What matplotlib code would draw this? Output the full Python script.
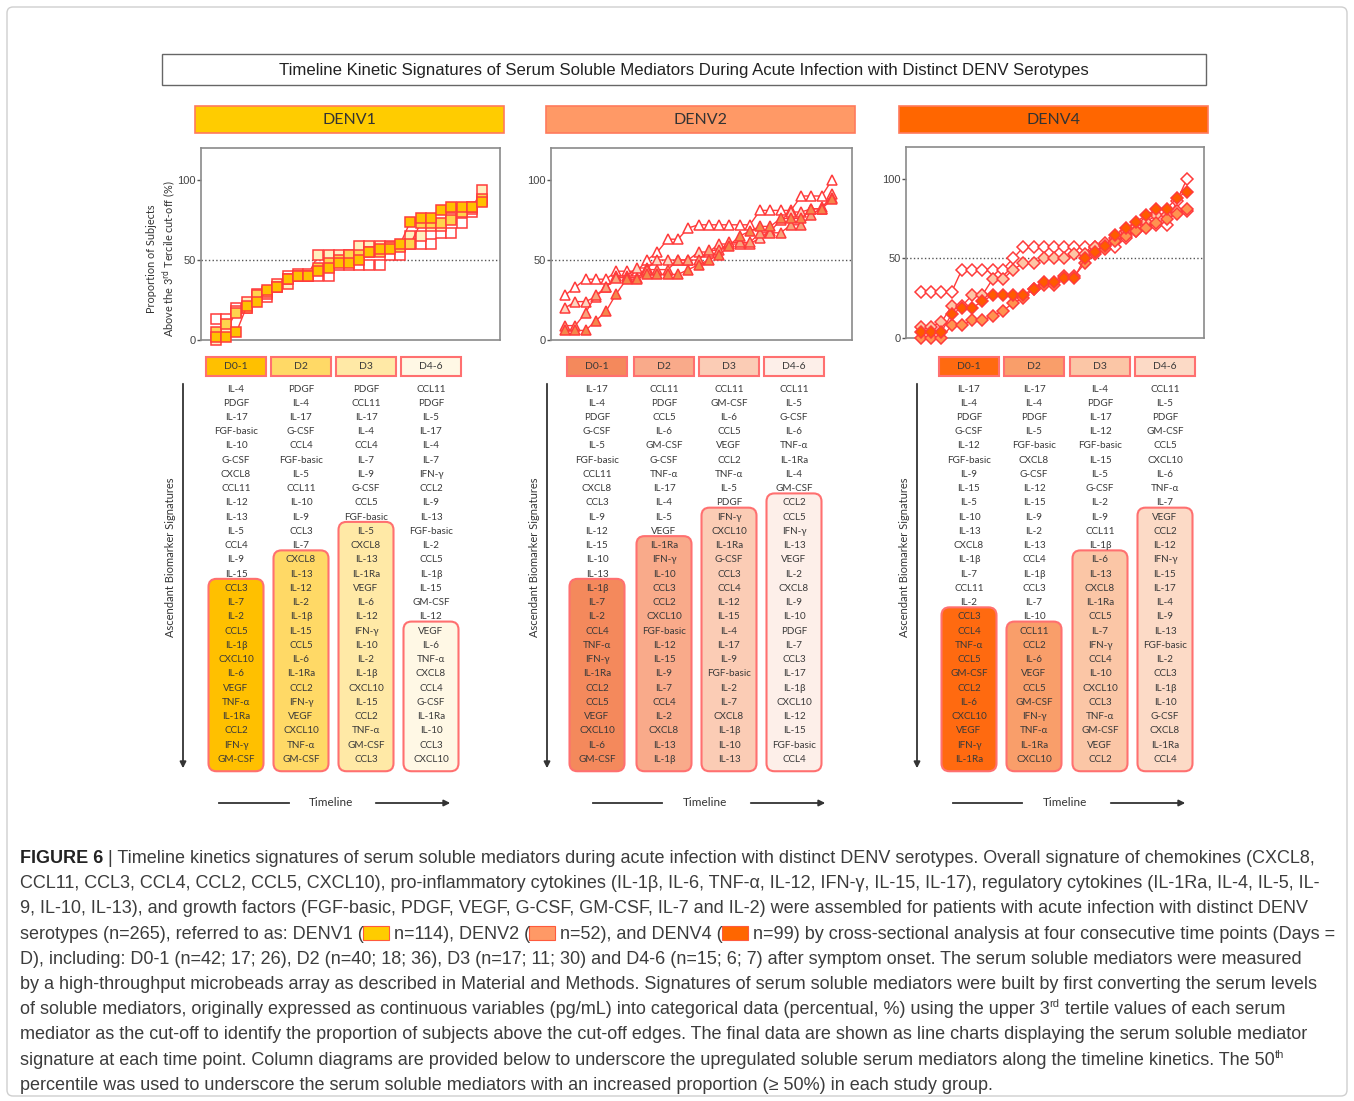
import matplotlib
matplotlib.use('Agg')
import matplotlib.pyplot as plt
from matplotlib.patches import FancyBboxPatch, Rectangle

W, H = 1354, 1101

# ---- data ----
days = ['D0-1', 'D2', 'D3', 'D4-6']
serotypes = ['DENV1', 'DENV2', 'DENV4']

# proportion of subjects above the 3rd tercile (%), ascending, 27 mediators
denv1_d01_pct = [2, 2, 5, 21, 24, 31, 33, 38, 40, 40, 43, 45, 48, 48, 50, 55, 57, 57, 60, 74, 76, 76, 81, 83, 83, 83, 86]
denv1_d2_pct = [5, 10, 17, 20, 28, 30, 33, 38, 40, 40, 45, 48, 50, 53, 53, 55, 55, 58, 58, 60, 73, 73, 73, 75, 80, 83, 88]
denv1_d3_pct = [0, 6, 18, 24, 29, 29, 35, 35, 41, 41, 53, 53, 53, 53, 59, 59, 59, 59, 59, 65, 65, 71, 71, 76, 82, 82, 94]
denv1_d46_pct = [13, 13, 20, 20, 27, 27, 33, 40, 40, 40, 40, 40, 47, 47, 47, 47, 47, 53, 53, 60, 60, 60, 67, 67, 73, 80, 87]

denv2_d01_pct = [6, 6, 6, 12, 18, 29, 38, 38, 41, 41, 41, 41, 44, 47, 50, 53, 59, 65, 68, 71, 71, 76, 76, 76, 82, 82, 88]
denv2_d2_pct = [9, 9, 17, 28, 33, 39, 39, 39, 44, 44, 44, 50, 50, 50, 56, 56, 61, 61, 61, 67, 67, 67, 72, 72, 78, 83, 89]
denv2_d3_pct = [20, 24, 24, 27, 33, 40, 40, 45, 45, 50, 50, 50, 50, 55, 55, 60, 60, 60, 60, 64, 68, 75, 80, 80, 82, 82, 91]
denv2_d46_pct = [28, 33, 38, 38, 38, 43, 43, 43, 50, 55, 63, 63, 70, 72, 72, 72, 72, 72, 72, 81, 81, 81, 81, 90, 90, 90, 100]

denv4_d01_pct = [4, 4, 4, 15, 19, 19, 23, 27, 27, 27, 27, 31, 35, 35, 38, 38, 50, 54, 58, 65, 69, 73, 77, 81, 81, 88, 92]
denv4_d2_pct = [0, 0, 0, 8, 8, 11, 11, 14, 17, 22, 25, 31, 33, 33, 39, 39, 47, 53, 56, 61, 64, 67, 69, 72, 75, 78, 81]
denv4_d3_pct = [7, 7, 10, 20, 20, 27, 27, 37, 37, 43, 47, 47, 50, 50, 50, 53, 53, 57, 60, 63, 67, 70, 73, 77, 77, 80, 80]
denv4_d46_pct = [29, 29, 29, 29, 43, 43, 43, 43, 43, 50, 57, 57, 57, 57, 57, 57, 57, 57, 57, 57, 63, 67, 71, 71, 71, 86, 100]

# ascending biomarker order per time point
denv1_d01_order = ['IL-4', 'PDGF', 'IL-17', 'FGF-basic', 'IL-10', 'G-CSF', 'CXCL8', 'CCL11', 'IL-12', 'IL-13', 'IL-5', 'CCL4', 'IL-9', 'IL-15',
                   'CCL3', 'IL-7', 'IL-2', 'CCL5', 'IL-1β', 'CXCL10', 'IL-6', 'VEGF', 'TNF-α', 'IL-1Ra', 'CCL2', 'IFN-γ', 'GM-CSF']
denv1_d2_order = ['PDGF', 'IL-4', 'IL-17', 'G-CSF', 'CCL4', 'FGF-basic', 'IL-5', 'CCL11', 'IL-10', 'IL-9', 'CCL3', 'IL-7',
                  'CXCL8', 'IL-13', 'IL-12', 'IL-2', 'IL-1β', 'IL-15', 'CCL5', 'IL-6', 'IL-1Ra', 'CCL2', 'IFN-γ', 'VEGF', 'CXCL10', 'TNF-α', 'GM-CSF']
denv1_d3_order = ['PDGF', 'CCL11', 'IL-17', 'IL-4', 'CCL4', 'IL-7', 'IL-9', 'G-CSF', 'CCL5', 'FGF-basic',
                  'IL-5', 'CXCL8', 'IL-13', 'IL-1Ra', 'VEGF', 'IL-6', 'IL-12', 'IFN-γ', 'IL-10', 'IL-2', 'IL-1β', 'CXCL10', 'IL-15', 'CCL2', 'TNF-α', 'GM-CSF', 'CCL3']
denv1_d46_order = ['CCL11', 'PDGF', 'IL-5', 'IL-17', 'IL-4', 'IL-7', 'IFN-γ', 'CCL2', 'IL-9', 'IL-13', 'FGF-basic', 'IL-2', 'CCL5', 'IL-1β', 'IL-15', 'GM-CSF', 'IL-12',
                   'VEGF', 'IL-6', 'TNF-α', 'CXCL8', 'CCL4', 'G-CSF', 'IL-1Ra', 'IL-10', 'CCL3', 'CXCL10']

denv2_d01_order = ['IL-17', 'IL-4', 'PDGF', 'G-CSF', 'IL-5', 'FGF-basic', 'CCL11', 'CXCL8', 'CCL3', 'IL-9', 'IL-12', 'IL-15', 'IL-10', 'IL-13',
                   'IL-1β', 'IL-7', 'IL-2', 'CCL4', 'TNF-α', 'IFN-γ', 'IL-1Ra', 'CCL2', 'CCL5', 'VEGF', 'CXCL10', 'IL-6', 'GM-CSF']
denv2_d2_order = ['CCL11', 'PDGF', 'CCL5', 'IL-6', 'GM-CSF', 'G-CSF', 'TNF-α', 'IL-17', 'IL-4', 'IL-5', 'VEGF',
                  'IL-1Ra', 'IFN-γ', 'IL-10', 'CCL3', 'CCL2', 'CXCL10', 'FGF-basic', 'IL-12', 'IL-15', 'IL-9', 'IL-7', 'CCL4', 'IL-2', 'CXCL8', 'IL-13', 'IL-1β']
denv2_d3_order = ['CCL11', 'GM-CSF', 'IL-6', 'CCL5', 'VEGF', 'CCL2', 'TNF-α', 'IL-5', 'PDGF',
                  'IFN-γ', 'CXCL10', 'IL-1Ra', 'G-CSF', 'CCL3', 'CCL4', 'IL-12', 'IL-15', 'IL-4', 'IL-17', 'IL-9', 'FGF-basic', 'IL-2', 'IL-7', 'CXCL8', 'IL-1β', 'IL-10', 'IL-13']
denv2_d46_order = ['CCL11', 'IL-5', 'G-CSF', 'IL-6', 'TNF-α', 'IL-1Ra', 'IL-4', 'GM-CSF',
                   'CCL2', 'CCL5', 'IFN-γ', 'IL-13', 'VEGF', 'IL-2', 'CXCL8', 'IL-9', 'IL-10', 'PDGF', 'IL-7', 'CCL3', 'IL-17', 'IL-1β', 'CXCL10', 'IL-12', 'IL-15', 'FGF-basic', 'CCL4']

denv4_d01_order = ['IL-17', 'IL-4', 'PDGF', 'G-CSF', 'IL-12', 'FGF-basic', 'IL-9', 'IL-15', 'IL-5', 'IL-10', 'IL-13', 'CXCL8', 'IL-1β', 'IL-7', 'CCL11', 'IL-2',
                   'CCL3', 'CCL4', 'TNF-α', 'CCL5', 'GM-CSF', 'CCL2', 'IL-6', 'CXCL10', 'VEGF', 'IFN-γ', 'IL-1Ra']
denv4_d2_order = ['IL-17', 'IL-4', 'PDGF', 'IL-5', 'FGF-basic', 'CXCL8', 'G-CSF', 'IL-12', 'IL-15', 'IL-9', 'IL-2', 'IL-13', 'CCL4', 'IL-1β', 'CCL3', 'IL-7', 'IL-10',
                  'CCL11', 'CCL2', 'IL-6', 'VEGF', 'CCL5', 'GM-CSF', 'IFN-γ', 'TNF-α', 'IL-1Ra', 'CXCL10']
denv4_d3_order = ['IL-4', 'PDGF', 'IL-17', 'IL-12', 'FGF-basic', 'IL-15', 'IL-5', 'G-CSF', 'IL-2', 'IL-9', 'CCL11', 'IL-1β',
                  'IL-6', 'IL-13', 'CXCL8', 'IL-1Ra', 'CCL5', 'IL-7', 'IFN-γ', 'CCL4', 'IL-10', 'CXCL10', 'CCL3', 'TNF-α', 'GM-CSF', 'VEGF', 'CCL2']
denv4_d46_order = ['CCL11', 'IL-5', 'PDGF', 'GM-CSF', 'CCL5', 'CXCL10', 'IL-6', 'TNF-α', 'IL-7',
                   'VEGF', 'CCL2', 'IL-12', 'IFN-γ', 'IL-15', 'IL-17', 'IL-4', 'IL-9', 'IL-13', 'FGF-basic', 'IL-2', 'CCL3', 'IL-1β', 'IL-10', 'G-CSF', 'CXCL8', 'IL-1Ra', 'CCL4']

pct = {
    'DENV1': [denv1_d01_pct, denv1_d2_pct, denv1_d3_pct, denv1_d46_pct],
    'DENV2': [denv2_d01_pct, denv2_d2_pct, denv2_d3_pct, denv2_d46_pct],
    'DENV4': [denv4_d01_pct, denv4_d2_pct, denv4_d3_pct, denv4_d46_pct],
}
orders = {
    'DENV1': [denv1_d01_order, denv1_d2_order, denv1_d3_order, denv1_d46_order],
    'DENV2': [denv2_d01_order, denv2_d2_order, denv2_d3_order, denv2_d46_order],
    'DENV4': [denv4_d01_order, denv4_d2_order, denv4_d3_order, denv4_d46_order],
}
cutoff = 50

# ---- layout / styles (pixels) ----
panel = {
    'DENV1': dict(head=(195, 504), ax=(201, 148, 500, 340), pts=(216, 482), cols=[236, 301, 366, 431],
                  arrow_x=183, lab_x=171, tl=(219, 289, 331, 373, 453), marker='s', ms=6.5,
                  head_col='#FFCC00', fills=['#FFC000', '#FFD966', '#FFE9A6', '#FFF8E5'],
                  mfc=['#FFC000', '#FFD34D', '#FFF0C0', '#FFFFFF']),
    'DENV2': dict(head=(546, 855), ax=(551, 148, 852, 340), pts=(565, 832), cols=[597, 664, 729, 794],
                  arrow_x=547, lab_x=535, tl=(593, 662, 705, 748, 828), marker='^', ms=7.5,
                  head_col='#FF9966', fills=['#F4895C', '#F9AA8A', '#FBCCB5', '#FDEFE9'],
                  mfc=['#F4874B', '#F8A47C', '#FCD5C0', '#FFFFFF']),
    'DENV4': dict(head=(899, 1208), ax=(906, 147, 1204, 338), pts=(921, 1187), cols=[969, 1034, 1100, 1165],
                  arrow_x=917, lab_x=905, tl=(953, 1022, 1065, 1108, 1188), marker='D', ms=6,
                  head_col='#FF6600', fills=['#FF6A10', '#F99E6A', '#FBC6A6', '#FCDAC6'],
                  mfc=['#FF5A00', '#FF9350', '#FDC5A5', '#FFFFFF']),
}
red = '#FF3B3B'
box_edge = '#FF7070'
txt_col = '#3a3a3a'
list_font = ['Lato', 'DejaVu Sans']
row0, row_step = 389, 14.24

fig = plt.figure(figsize=(W / 100, H / 100), dpi=100)
bg = fig.add_axes([0, 0, 1, 1])
bg.set_xlim(0, W)
bg.set_ylim(H, 0)
bg.axis('off')

# outer frame
bg.add_patch(FancyBboxPatch((7, 7), W - 14, H - 12, boxstyle='round,pad=0,rounding_size=6',
                            fc='none', ec='#cfcfcf', lw=1))

# main title box
bg.add_patch(Rectangle((162, 54), 1206 - 162, 31, fc='white', ec='#666666', lw=1))
bg.text(684, 70, 'Timeline Kinetic Signatures of Serum Soluble Mediators During Acute Infection with Distinct DENV Serotypes',
        ha='center', va='center', fontsize=12.1, color='#222222',
        family=['Liberation Sans', 'DejaVu Sans'])

# y label of the first line chart
bg.text(162, 259, 'Proportion of Subjects\nAbove the 3$^{\\rm rd}$ Tercile cut-off (%)', rotation=90,
        ha='center', va='center', fontsize=7.8, color='#333333', family=list_font, linespacing=1.3)

for sero in serotypes:
    p = panel[sero]
    # serotype header
    x0, x1 = p['head']
    bg.add_patch(Rectangle((x0, 106), x1 - x0, 27, fc=p['head_col'], ec='#FF7A5C', lw=1.2))
    bg.text((x0 + x1) / 2, 120, sero, ha='center', va='center', fontsize=11.5, color='#333333', family=list_font)

    # line chart
    l, t, r, b = p['ax']
    ax = fig.add_axes([l / W, 1 - b / H, (r - l) / W, (b - t) / H])
    first, last = p['pts']
    sp = (last - first) / 26.0
    for i, vals in enumerate(pct[sero]):
        xs = list(range(len(vals)))
        ax.plot(xs, vals, color=red, lw=1.0, marker=p['marker'], ms=p['ms'],
                mfc=p['mfc'][i], mec=red, mew=1.1, clip_on=False, zorder=3 + (3 - i))
    ax.axhline(cutoff, color='#555555', ls=':', lw=1.0, zorder=1)
    ax.set_xlim(-(first - l) / sp, 26 + (r - last) / sp)
    ax.set_ylim(0, 120)
    ax.set_xticks([])
    ax.set_yticks([0, 50, 100])
    ax.tick_params(axis='y', direction='out', length=3, width=1, colors='#555555', labelsize=8, pad=1)
    for lab in ax.get_yticklabels():
        lab.set_family(['Liberation Sans', 'DejaVu Sans'])
        lab.set_color('#444444')
    for s in ax.spines.values():
        s.set_color('#8a8a8a')
        s.set_linewidth(1.2)
    ax.patch.set_alpha(0)

    # biomarker columns
    for i, day in enumerate(days):
        cx = p['cols'][i]
        bg.add_patch(Rectangle((cx - 30, 357), 60, 19, fc=p['fills'][i], ec=box_edge, lw=1.5))
        bg.text(cx, 366.5, day, ha='center', va='center', fontsize=7.5, color=txt_col, family=list_font)
        names = orders[sero][i]
        n_below = sum(1 for v in pct[sero][i] if v < cutoff)
        y_top = row0 + n_below * row_step - 9.5
        y_bot = row0 + (len(names) - 1) * row_step + 12
        bg.add_patch(FancyBboxPatch((cx - 27.5, y_top), 55, y_bot - y_top,
                                    boxstyle='round,pad=0,rounding_size=8',
                                    fc=p['fills'][i], ec=box_edge, lw=1.5))
        for k, name in enumerate(names):
            bg.text(cx, row0 + k * row_step, name, ha='center', va='center', fontsize=7.1,
                    color=txt_col, family=list_font)

    # vertical arrow and label
    ax_x = p['arrow_x']
    bg.annotate('', xy=(ax_x, 771), xytext=(ax_x, 381),
                arrowprops=dict(arrowstyle='-|>', color='#333333', lw=1.3, mutation_scale=9))
    bg.text(p['lab_x'], 557, 'Ascendant Biomarker Signatures', rotation=90, ha='center', va='center',
            fontsize=8, color='#333333', family=list_font)

    # timeline arrow
    a0, a1, tx, b0, b1 = p['tl']
    bg.plot([a0, a1], [803, 803], color='#333333', lw=1.3)
    bg.annotate('', xy=(b1, 803), xytext=(b0, 803),
                arrowprops=dict(arrowstyle='-|>', color='#333333', lw=1.3, mutation_scale=9))
    bg.text(tx, 802, 'Timeline', ha='center', va='center', fontsize=8.5, color='#333333', family=list_font)

# ---- caption ----
cap_font = ['Liberation Sans', 'DejaVu Sans']
cap_size = 13.0
cap_col = '#3c3c3c'
renderer = fig.canvas.get_renderer()


def seg_width(txt, **kw):
    t1 = bg.text(0, 0, '|' + txt + '|', **kw)
    w1 = t1.get_window_extent(renderer).width
    t1.remove()
    t2 = bg.text(0, 0, '||', **kw)
    w2 = t2.get_window_extent(renderer).width
    t2.remove()
    return w1 - w2


caption = [
    [('b', 'FIGURE 6'), ('t', ' | Timeline kinetics signatures of serum soluble mediators during acute infection with distinct DENV serotypes. Overall signature of chemokines (CXCL8,')],
    [('t', 'CCL11, CCL3, CCL4, CCL2, CCL5, CXCL10), pro-inflammatory cytokines (IL-1β, IL-6, TNF-α, IL-12, IFN-γ, IL-15, IL-17), regulatory cytokines (IL-1Ra, IL-4, IL-5, IL-')],
    [('t', '9, IL-10, IL-13), and growth factors (FGF-basic, PDGF, VEGF, G-CSF, GM-CSF, IL-7 and IL-2) were assembled for patients with acute infection with distinct DENV')],
    [('t', 'serotypes (n=265), referred to as: DENV1 ('), ('box', '#FFCC00'), ('t', ' n=114), DENV2 ('), ('box', '#FF9966'),
     ('t', ' n=52), and DENV4 ('), ('box', '#FF6600'), ('t', ' n=99) by cross-sectional analysis at four consecutive time points (Days =')],
    [('t', 'D), including: D0-1 (n=42; 17; 26), D2 (n=40; 18; 36), D3 (n=17; 11; 30) and D4-6 (n=15; 6; 7) after symptom onset. The serum soluble mediators were measured')],
    [('t', 'by a high-throughput microbeads array as described in Material and Methods. Signatures of serum soluble mediators were built by first converting the serum levels')],
    [('t', 'of soluble mediators, originally expressed as continuous variables (pg/mL) into categorical data (percentual, %) using the upper 3'), ('sup', 'rd'),
     ('t', ' tertile values of each serum')],
    [('t', 'mediator as the cut-off to identify the proportion of subjects above the cut-off edges. The final data are shown as line charts displaying the serum soluble mediator')],
    [('t', 'signature at each time point. Column diagrams are provided below to underscore the upregulated soluble serum mediators along the timeline kinetics. The 50'), ('sup', 'th')],
    [('t', 'percentile was used to underscore the serum soluble mediators with an increased proportion (≥ 50%) in each study group.')],
]

base0, line_step = 863, 25.2
for li, segs in enumerate(caption):
    x = 20
    y = base0 + li * line_step
    for kind, content in segs:
        if kind == 'box':
            bg.add_patch(Rectangle((x - 1, y - 13), 26, 14, fc=content, ec='#FF5A3C', lw=0.8))
            x += 25
            continue
        kw = dict(family=cap_font, color=cap_col, fontsize=cap_size)
        yy = y
        if kind == 'b':
            kw.update(weight='bold', color='#222222')
        elif kind == 'sup':
            kw.update(fontsize=cap_size * 0.62)
            yy = y - 7
        w = seg_width(content, **kw)
        bg.text(x, yy, content, ha='left', va='baseline', **kw)
        x += w

fig.savefig('out.png', dpi=100)
